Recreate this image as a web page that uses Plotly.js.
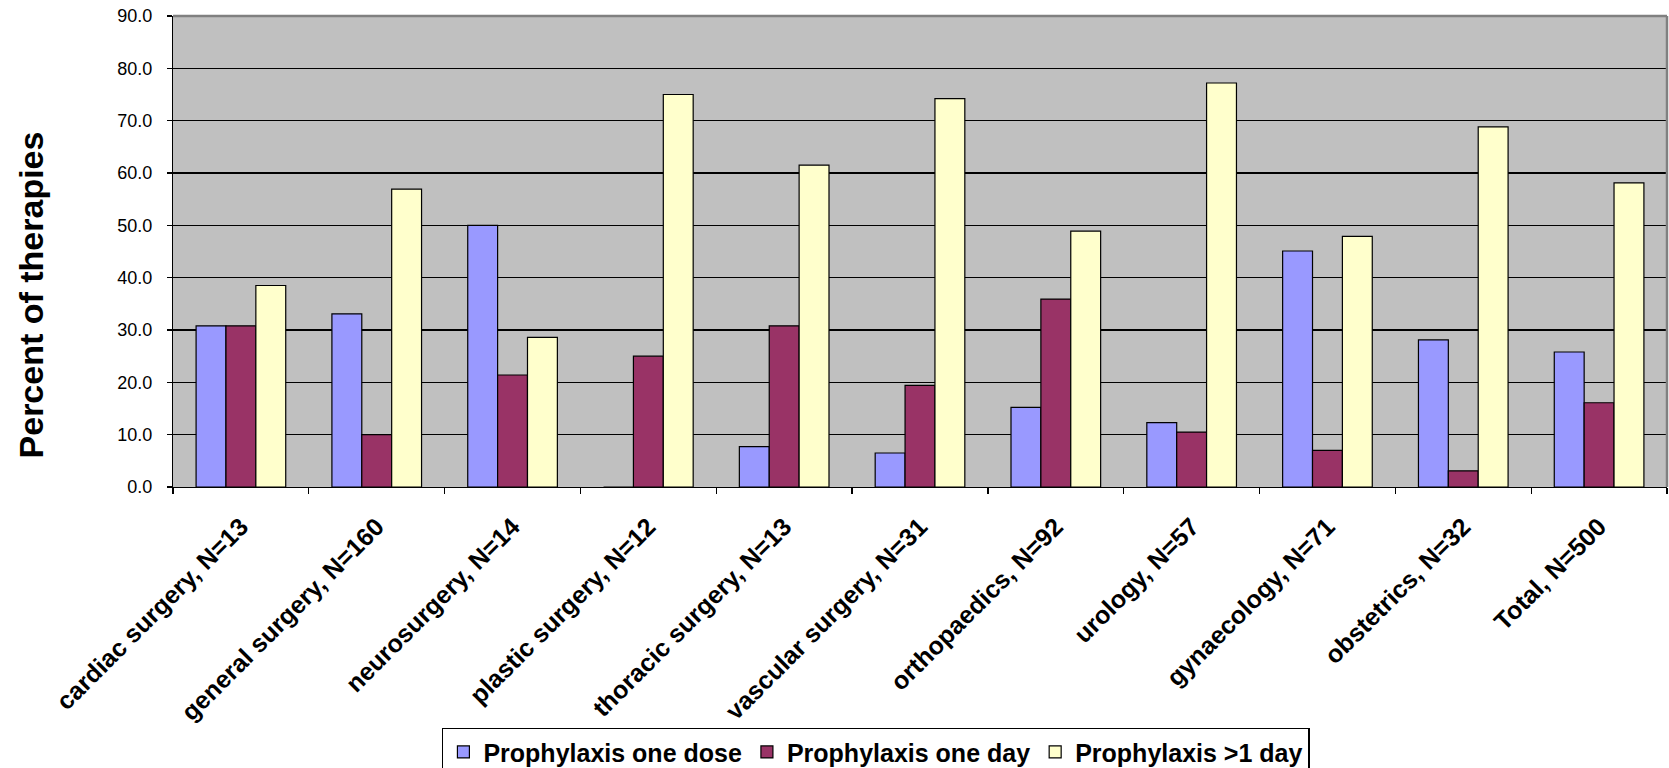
<!DOCTYPE html>
<html>
<head>
<meta charset="utf-8">
<script src="https://cdn.plot.ly/plotly-3.0.1.min.js"></script>
<style>
  html, body { margin: 0; padding: 0; background: #ffffff; }
  #chart { width: 1669px; height: 768px; }
</style>
</head>
<body>
<div id="chart"></div>
<script>
const categories = [
  "cardiac surgery, N=13",
  "general surgery, N=160",
  "neurosurgery, N=14",
  "plastic surgery, N=12",
  "thoracic surgery, N=13",
  "vascular surgery, N=31",
  "orthopaedics, N=92",
  "urology, N=57",
  "gynaecology, N=71",
  "obstetrics, N=32",
  "Total, N=500"
];
const oneDose = [30.8, 33.1, 50.0, 0.0, 7.7, 6.5, 15.2, 12.3, 45.1, 28.1, 25.8];
const oneDay  = [30.8, 10.0, 21.4, 25.0, 30.8, 19.4, 35.9, 10.5, 7.0, 3.1, 16.1];
const moreDay = [38.5, 56.9, 28.6, 75.0, 61.5, 74.2, 48.9, 77.2, 47.9, 68.8, 58.1];
const seriesNames = ["Prophylaxis one dose", "Prophylaxis one day", "Prophylaxis >1 day"];
const yTicks = [0, 10, 20, 30, 40, 50, 60, 70, 80, 90];

const FONT = "'Liberation Sans', Arial, sans-serif";
const colors = ["#9999FF", "#993366", "#FFFFCC"];
const seriesValues = [oneDose, oneDay, moreDay];

const traces = seriesValues.map((vals, i) => ({
  type: "bar",
  name: seriesNames[i],
  x: categories,
  y: vals,
  marker: { color: colors[i], line: { color: "#000000", width: 1.2 } },
  hoverinfo: "x+y+name"
}));

const layout = {
  width: 1669,
  height: 768,
  margin: { l: 173, r: 2, t: 16, b: 281, pad: 0, autoexpand: false },
  paper_bgcolor: "#ffffff",
  plot_bgcolor: "#C0C0C0",
  barmode: "group",
  bargap: 0.34,
  bargroupgap: 0,
  font: { family: FONT, color: "#000000" },
  showlegend: true,
  legend: {
    orientation: "h",
    x: 0.18,
    y: -0.511,
    xanchor: "left",
    yanchor: "top",
    bgcolor: "#ffffff",
    bordercolor: "#000000",
    borderwidth: 1.5,
    font: { family: FONT, size: 25, weight: "bold", color: "#000000" },
    itemwidth: 30,
    tracegroupgap: 0
  },
  xaxis: {
    type: "category",
    tickangle: -45,
    tickfont: { family: FONT, size: 25, weight: "bold", color: "#000000" },
    showline: true,
    linecolor: "#000000",
    linewidth: 1.2,
    ticks: "outside",
    tickson: "boundaries",
    ticklen: 6,
    tickcolor: "#000000",
    tickwidth: 1.2,
    ticklabelstandoff: 14,
    showgrid: false,
    zeroline: false,
    fixedrange: true
  },
  yaxis: {
    range: [0, 90],
    tickvals: yTicks,
    tickformat: ".1f",
    tickfont: { family: FONT, size: 18, color: "#000000" },
    showline: true,
    linecolor: "#000000",
    linewidth: 1.2,
    ticks: "outside",
    ticklen: 5,
    tickcolor: "#000000",
    tickwidth: 1.2,
    ticklabelstandoff: 11,
    showgrid: true,
    gridcolor: "#000000",
    gridwidth: 1.2,
    zeroline: false,
    fixedrange: true
  },
  shapes: [
    { type: "line", xref: "paper", yref: "paper", x0: 0, x1: 1, y0: 1, y1: 1,
      line: { color: "#808080", width: 2.5 } },
    { type: "line", xref: "paper", yref: "paper", x0: 1, x1: 1, y0: 0, y1: 1,
      line: { color: "#808080", width: 2.5 } }
  ],
  annotations: [
    {
      text: "Percent of therapies",
      xref: "paper", yref: "paper",
      x: -0.0953, y: 0.408,
      xanchor: "center", yanchor: "middle",
      textangle: -90,
      showarrow: false,
      font: { family: FONT, size: 34, weight: "bold", color: "#000000" }
    }
  ]
};

Plotly.newPlot("chart", traces, layout, { displayModeBar: false, staticPlot: true });
</script>
</body>
</html>
